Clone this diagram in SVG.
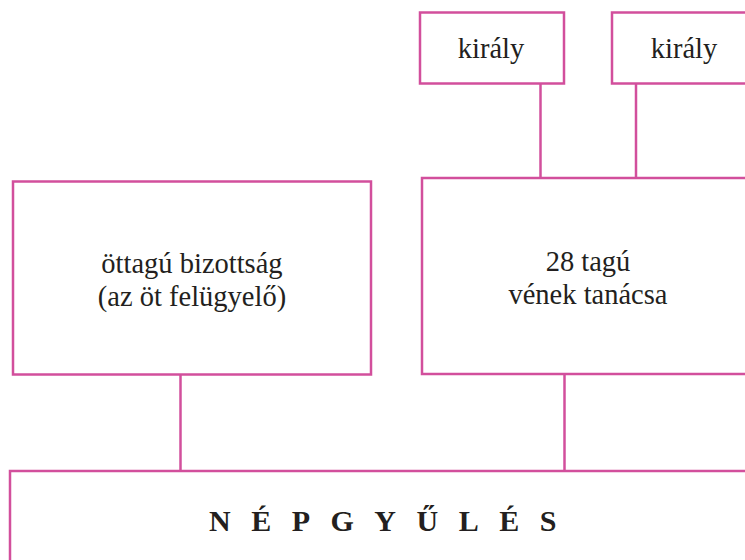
<svg xmlns="http://www.w3.org/2000/svg" width="745" height="560" viewBox="0 0 745 560">
<style>
.box{fill:#fff;stroke:#d24f9c;stroke-width:2.5}
.ln{stroke:#d24f9c;stroke-width:2.5;fill:none}
.t{font-family:"Liberation Serif","DejaVu Serif",serif;font-size:28.5px;fill:#231f20;text-anchor:middle}
.big{font-family:"Liberation Serif","DejaVu Serif",serif;font-size:30px;font-weight:bold;fill:#231f20;letter-spacing:20.5px}
</style>
<rect width="745" height="560" fill="#fff"/>
<g id="connectors">
<line class="ln" x1="540.5" y1="83" x2="540.5" y2="178"/>
<line class="ln" x1="636" y1="83" x2="636" y2="178"/>
<line class="ln" x1="180.5" y1="374" x2="180.5" y2="471"/>
<line class="ln" x1="564.5" y1="374" x2="564.5" y2="471"/>
</g>
<g id="kiraly1">
<rect class="box" x="420" y="12.5" width="144" height="71"/>
<text class="t" x="491" y="58">király</text>
</g>
<g id="kiraly2">
<rect class="box" x="612" y="12.5" width="150" height="71"/>
<text class="t" x="684" y="58">király</text>
</g>
<g id="bizottsag">
<rect class="box" x="13" y="181.5" width="358" height="193"/>
<text class="t" x="192" y="273">öttagú bizottság</text>
<text class="t" x="192" y="306">(az öt felügyelő)</text>
</g>
<g id="venek">
<rect class="box" x="422" y="178" width="340" height="196"/>
<text class="t" x="588" y="271">28 tagú</text>
<text class="t" x="588" y="304">vének tanácsa</text>
</g>
<g id="nepgyules">
<rect class="box" x="10" y="471" width="760" height="110"/>
<text class="big" x="209" y="531">NÉPGYŰLÉS</text>
</g>
</svg>
